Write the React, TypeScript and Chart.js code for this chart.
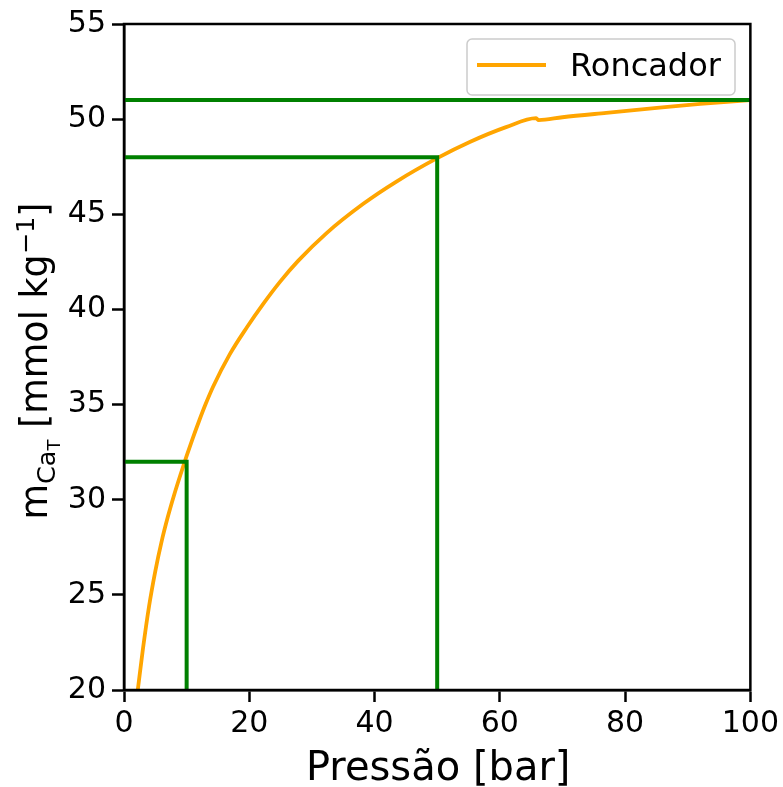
import React, { useEffect, useRef } from "react";
import { Chart, registerables } from "chart.js";

Chart.register(...registerables);

// Roncador curve: pressure [bar] vs m_CaT [mmol/kg]
const pressure = [2.2, 3.0, 4.0, 5.0, 6.0, 7.0, 8.0, 9.0, 10.0, 11.0, 12.0, 13.0, 14.24, 16.9, 19.6, 22.2, 24.9, 27.8, 32.3, 38.2, 43.5, 50.0, 55.2, 61.0, 65.8, 66.2, 70.0, 77.0, 85.5, 92.0, 100];
const mCaT = [20.0, 22.1, 24.4, 26.25, 27.8, 29.1, 30.25, 31.3, 32.3, 33.25, 34.15, 35.0, 35.95, 37.65, 39.05, 40.28, 41.45, 42.55, 44.0, 45.55, 46.72, 47.95, 48.8, 49.58, 50.05, 49.95, 50.1, 50.33, 50.6, 50.8, 51.0];

// green guide lines
const guide51X = [0, 100];
const guide51Y = [51, 51];
const guide48X = [0, 50, 50];
const guide48Y = [48, 48, 20];
const guide32X = [0, 10, 10];
const guide32Y = [32, 32, 20];

const xMin = 0, xMax = 100, xStep = 20;
const yMin = 20, yMax = 55, yStep = 5;

const seriesLabel = "Roncador";
const xTitle = "Pressão [bar]";

const FONT = "'DejaVu Sans', sans-serif";
const ORANGE = "#FFA500";
const GREEN = "#008000";

const zip = (xs: number[], ys: number[]) => xs.map((x, i) => ({ x, y: ys[i] }));

const decorPlugin = {
  id: "decor",
  afterDraw(chart: any) {
    const { ctx, chartArea } = chart;
    const { left, right, top, bottom } = chartArea;
    ctx.save();
    // frame
    ctx.strokeStyle = "#000";
    ctx.lineWidth = 2.5;
    ctx.strokeRect(left, top, right - left, bottom - top);

    // x title
    ctx.fillStyle = "#000";
    ctx.font = `40px ${FONT}`;
    ctx.textAlign = "center";
    ctx.textBaseline = "alphabetic";
    ctx.fillText(xTitle, (left + right) / 2 + 1, 780);

    // y title with sub/superscripts
    const big = 36.5;
    const sub = big * 0.7;
    const sub2 = big * 0.49;
    const parts = [
      { t: "m", s: big, dy: 0 },
      { t: "Ca", s: sub, dy: big * 0.22 },
      { t: "T", s: sub2, dy: big * 0.36 },
      { t: " [mmol kg", s: big, dy: 0 },
      { t: "\u22121", s: sub, dy: -big * 0.36 },
      { t: "]", s: big, dy: 0 },
    ];
    let total = 0;
    const widths = parts.map((p) => {
      ctx.font = `${p.s}px ${FONT}`;
      const w = ctx.measureText(p.t).width;
      total += w;
      return w;
    });
    ctx.translate(47, 361);
    ctx.rotate(-Math.PI / 2);
    ctx.textAlign = "left";
    let cx = -total / 2;
    parts.forEach((p, i) => {
      ctx.font = `${p.s}px ${FONT}`;
      ctx.fillText(p.t, cx, p.dy);
      cx += widths[i];
    });
    ctx.setTransform(1, 0, 0, 1, 0, 0);

    // legend
    const lx = 467, ly = 39, lw = 268, lh = 56;
    ctx.beginPath();
    ctx.roundRect(lx, ly, lw, lh, 5);
    ctx.fillStyle = "rgba(255,255,255,0.8)";
    ctx.fill();
    ctx.strokeStyle = "#cccccc";
    ctx.lineWidth = 1.5;
    ctx.stroke();
    ctx.beginPath();
    ctx.moveTo(477, 65);
    ctx.lineTo(546, 65);
    ctx.strokeStyle = ORANGE;
    ctx.lineWidth = 3.8;
    ctx.stroke();
    ctx.fillStyle = "#000";
    ctx.font = `32px ${FONT}`;
    ctx.textAlign = "left";
    ctx.fillText(seriesLabel, 570, 76);
    ctx.restore();
  },
};

export default function App() {
  const ref = useRef<HTMLCanvasElement>(null);
  useEffect(() => {
    const canvas = ref.current!;
    const lineDs = (data: any, color: string, w: number, extra: any = {}) => ({
      data,
      borderColor: color,
      backgroundColor: color,
      borderWidth: w,
      pointRadius: 0,
      showLine: true,
      fill: false,
      ...extra,
    });
    const chart = new Chart(canvas, {
      type: "scatter",
      data: {
        datasets: [
          lineDs(zip(guide51X, guide51Y), GREEN, 4),
          lineDs(zip(guide48X, guide48Y), GREEN, 4),
          lineDs(zip(guide32X, guide32Y), GREEN, 4),
          lineDs(zip(pressure, mCaT), ORANGE, 3.8, { cubicInterpolationMode: "monotone" }),
        ],
      },
      options: {
        responsive: false,
        animation: false,
        devicePixelRatio: 1,
        layout: { padding: { left: 0, top: 23, right: 32, bottom: 0 } },
        plugins: { legend: { display: false }, tooltip: { enabled: false } },
        scales: {
          x: {
            type: "linear",
            min: xMin,
            max: xMax,
            ticks: { stepSize: xStep, color: "#000", font: { family: FONT, size: 30 }, padding: 4, maxRotation: 0 },
            grid: { drawOnChartArea: false, drawTicks: true, tickLength: 12, tickWidth: 2.5, tickColor: "#000" },
            border: { display: true, color: "#000", width: 2.5 },
            afterFit: (s: any) => { s.height = 97; },
          },
          y: {
            type: "linear",
            min: yMin,
            max: yMax,
            ticks: { stepSize: yStep, color: "#000", font: { family: FONT, size: 30 }, padding: 6 },
            grid: { drawOnChartArea: false, drawTicks: true, tickLength: 12, tickWidth: 2.5, tickColor: "#000" },
            border: { display: true, color: "#000", width: 2.5 },
            afterFit: (s: any) => { s.width = 124; },
          },
        },
      },
      plugins: [decorPlugin],
    });
    return () => chart.destroy();
  }, []);
  return (
    <div style={{ position: "absolute", left: 0, top: 0, width: 783, height: 787, background: "#fff" }}>
      <canvas ref={ref} width={783} height={787} style={{ display: "block" }} />
    </div>
  );
}
